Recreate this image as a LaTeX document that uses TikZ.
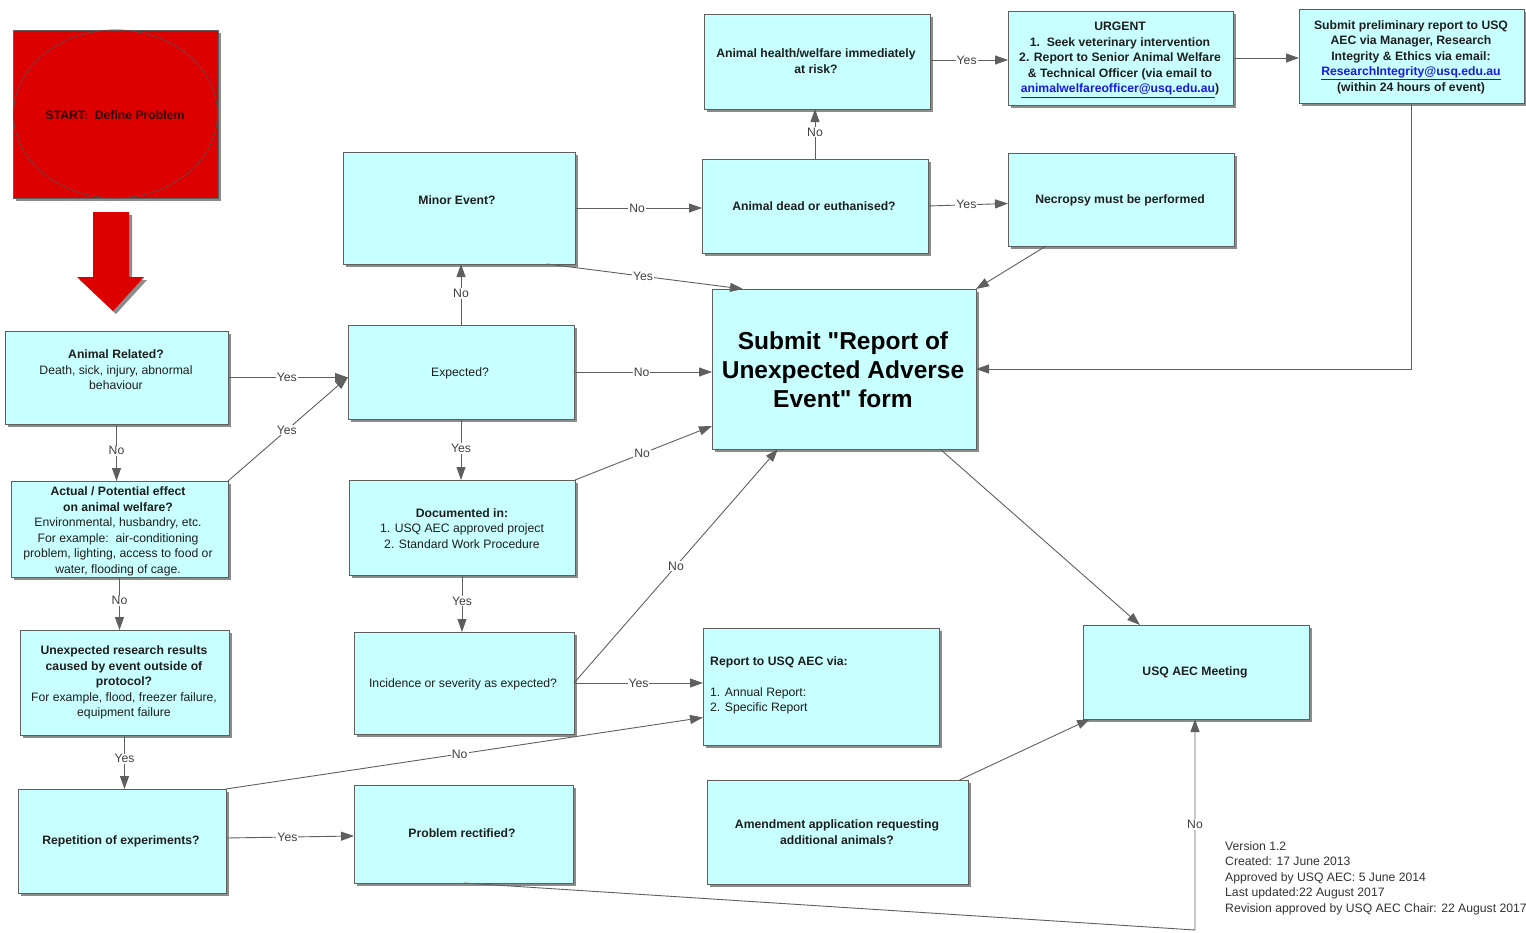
\documentclass[tikz,border=0pt]{standalone}
\usepackage{fontspec}
\setmainfont{Liberation Sans}
\usetikzlibrary{arrows.meta,shadows,calc,shapes.geometric}
\definecolor{boxfill}{RGB}{200,255,255}
\definecolor{boxline}{RGB}{95,95,95}
\definecolor{lineclr}{RGB}{95,95,95}
\definecolor{txt}{RGB}{30,30,30}
\definecolor{lnk}{RGB}{25,25,230}
\definecolor{startred}{RGB}{221,0,0}
\definecolor{ellclr}{RGB}{120,60,60}
\definecolor{sttxtclr}{RGB}{40,0,0}
\newcommand{\lnkt}[1]{\textcolor{lnk}{\underline{#1}}}
\newcommand{\mybox}[5]{\node[box, minimum width={(#4)-(#2)}, minimum height={(#5)-(#3)}] (#1) at ({((#2)+(#4))/2},{((#3)+(#5))/2}) {};}
\tikzset{
 box/.style={draw=boxline, fill=boxfill, line width=1pt, inner sep=0pt, outer sep=0pt,
   drop shadow={shadow xshift=3pt, shadow yshift=-3pt, fill=black!45, opacity=1}},
 txtb/.style={font=\fontsize{12.2}{15.5}\selectfont\bfseries, text=txt, align=center, inner sep=0pt},
 txtr/.style={font=\fontsize{12.2}{15.5}\selectfont, text=txt, align=center, inner sep=0pt},
 conn/.style={draw=lineclr, line width=0.9pt, -{Triangle[length=13pt,width=9pt]}},
 lbl/.style={fill=white, font=\fontsize{12.2}{14}\selectfont, text=black!75, inner sep=1pt},
}
\begin{document}
\begin{tikzpicture}[x=1pt,y=-1pt]
\useasboundingbox (0,0) rectangle (1526,932);
% start
\node[draw=boxline, fill=startred, line width=1pt, minimum width=205pt, minimum height=168pt, inner sep=0pt,
  drop shadow={shadow xshift=3pt, shadow yshift=-3pt, fill=black!45, opacity=1}] (st) at (115.5,114) {};
\node[draw=ellclr, line width=0.8pt, ellipse, minimum width=204pt, minimum height=168pt, inner sep=0pt] (stell) at (115.5,114) {};
\node[txtb, text=sttxtclr] (sttxt) at (115,115) {START:\ \ Define Problem};
% big arrow
\fill[black!45] (96,215) -- (132,215) -- (132,280) -- (147,280) -- (116,314) -- (80,280) -- (96,280) -- cycle;
\fill[startred] (93,212) -- (129,212) -- (129,277) -- (144,277) -- (113,311) -- (77,277) -- (93,277) -- cycle;

% boxes
\mybox{ar}{5}{331}{228}{424}
\mybox{ac}{11}{481}{228}{577}
\mybox{ur}{20}{630}{229}{735}
\mybox{rp}{18}{789}{226}{893}
\mybox{mn}{343}{152}{575}{264}
\mybox{ex}{348}{325}{574}{419}
\mybox{dc}{349}{480}{575}{575}
\mybox{ic}{354}{632}{574}{734}
\mybox{pr}{354}{785}{573}{883}
\mybox{ah}{704}{14}{930}{109}
\mybox{ad}{702}{159}{928}{253}
\mybox{sf}{712}{289}{976}{449}
\mybox{rt}{703}{628}{939}{745}
\mybox{am}{707}{780}{968}{884}
\mybox{ug}{1008}{11}{1233}{105}
\mybox{np}{1008}{153}{1234}{246}
\mybox{sp}{1299}{9}{1524}{103}
\mybox{mt}{1083}{625}{1309}{719}

% texts
\node[txtr] (artxt) at (116,370) {\textbf{Animal Related?}\\Death, sick, injury, abnormal\\behaviour};
\node[txtr] (actxt) at (118,531.5) {\textbf{Actual / Potential effect}\\\textbf{on animal welfare?}\\Environmental, husbandry, etc.\\For example:\ \ air-conditioning\\problem, lighting, access to food or\\water, flooding of cage.};
\node[txtr] (urtxt) at (124,682.5) {\textbf{Unexpected research results}\\\textbf{caused by event outside of}\\\textbf{protocol?}\\For example, flood, freezer failure,\\equipment failure};
\node[txtb] (rptxt) at (121,841) {Repetition of experiments?};
\node[txtb] (mntxt) at (457,200) {Minor Event?};
\node[txtr] (extxt) at (460,373) {Expected?};
\node[txtr] (dctxt) at (462,528.5) {\textbf{Documented in:}\\1. USQ AEC approved project\\2. Standard Work Procedure};
\node[txtr] (ictxt) at (463,684) {Incidence or severity as expected?};
\node[txtb] (prtxt) at (462,833) {Problem rectified?};
\node[txtb] (ahtxt) at (816,61) {Animal health/welfare immediately\\at risk?};
\node[txtb] (adtxt) at (814,206) {Animal dead or euthanised?};
\node[txtb] (ugtxt) at (1120,60) {URGENT\\1.\ \ Seek veterinary intervention\\2. Report to Senior Animal Welfare\\\& Technical Officer (via email to\\\lnkt{animalwelfareofficer@usq.edu.au})};
\node[txtb] (nptxt) at (1120,200) {Necropsy must be performed};
\node[txtb] (sptxt) at (1411,57) {Submit preliminary report to USQ\\AEC via Manager, Research\\Integrity \& Ethics via email:\\\lnkt{ResearchIntegrity@usq.edu.au}\\(within 24 hours of event)};
\node[font=\fontsize{24.5}{29}\selectfont\bfseries, text=black, align=center, inner sep=0pt] (sftxt) at (843,370) {Submit \textquotedbl Report of\\Unexpected Adverse\\Event\textquotedbl\ form};
\node[txtr, align=left, anchor=north west] (rttxt) at (710,656) {\textbf{Report to USQ AEC via:}\\[15.5pt]1. Annual Report:\\2. Specific Report};
\node[txtb] (amtxt) at (837,832) {Amendment application requesting\\additional animals?};
\node[txtb] (mttxt) at (1195,672) {USQ AEC Meeting};
\node[txtr, align=left, anchor=north west, text=black!80] (ver) at (1225,841) {Version 1.2\\Created: 17 June 2013\\Approved by USQ AEC: 5 June 2014\\Last updated:22 August 2017\\Revision approved by USQ AEC Chair: 22 August 2017};

% connectors
\draw[conn] (ar.east) -- node[lbl,pos=0.49]{Yes} (ar.east -| ex.west);
\draw[conn] (ar.south) -- node[lbl,pos=0.47]{No} (ar.south |- ac.north);
\draw[conn] (ac.north east) -- node[lbl,pos=0.49]{Yes} ([yshift=-5pt]ex.west);
\draw[conn] (ac.south) -- node[lbl,pos=0.45]{No} (ac.south |- ur.north);
\draw[conn] (ur.south) -- node[lbl,pos=0.44]{Yes} (ur.south |- rp.north);
\draw[conn] ([yshift=3pt]rp.east) -- node[lbl,pos=0.48]{Yes} ([yshift=-2pt]pr.west);
\draw[conn] (rp.north east) -- node[lbl,pos=0.49]{No} ([yshift=-31pt]rt.west);
\draw[conn] (ex.north) -- node[lbl,pos=0.52]{No} (ex.north |- mn.south);
\draw[conn] (ex.east) -- node[lbl,pos=0.49]{No} (ex.east -| sf.west);
\draw[conn] (ex.south) -- node[lbl,pos=0.48]{Yes} (ex.south |- dc.north);
\draw[conn] (dc.north east) -- node[lbl,pos=0.49]{No} ([yshift=-57pt]sf.west);
\draw[conn] (dc.south) -- node[lbl,pos=0.46]{Yes} (dc.south |- ic.north);
\draw[conn] (ic.east) -- node[lbl,pos=0.5]{No} ([xshift=-66pt]sf.south);
\draw[conn] (ic.east) -- node[lbl,pos=0.5]{Yes} (ic.east -| rt.west);
\draw[conn] (mn.east) -- node[lbl,pos=0.49]{No} (mn.east -| ad.west);
\draw[conn] ([xshift=88pt]mn.south) -- node[lbl,pos=0.49]{Yes} ([xshift=-101pt]sf.north);
\draw[conn] (ad.north) -- node[lbl,pos=0.54]{No} (ad.north |- ah.south);
\draw[conn] (ad.east) -- node[lbl,pos=0.48]{Yes} ([yshift=-4pt]np.west);
\draw[conn] ([xshift=-75pt]np.south) -- (sf.north east);
\draw[conn] ([yshift=1.5pt]ah.east) -- node[lbl,pos=0.47]{Yes} ([yshift=1.5pt]ah.east -| ug.west);
\draw[conn] (ug.east) -- (ug.east -| sp.west);
\draw[conn] (sp.south) -- (sp.south |- sf.east) -- (sf.east);
\draw[conn] ([xshift=96pt]sf.south) -- ([xshift=-56pt]mt.north);
\draw[conn] ([xshift=122pt]am.north) -- ([xshift=7pt]mt.south west);
\coordinate (cn) at (1195,930);
\draw[conn] (pr.south) -- (cn) -- node[lbl,pos=0.5]{No} (cn |- mt.south);
\end{tikzpicture}
\end{document}
